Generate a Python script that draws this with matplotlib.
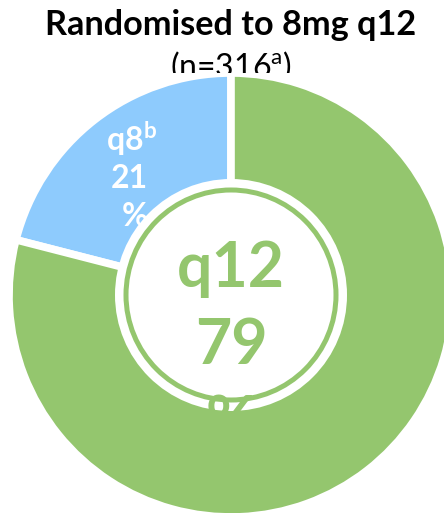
import matplotlib
matplotlib.use("Agg")
import matplotlib.pyplot as plt
from matplotlib.patches import Circle
from matplotlib.transforms import Bbox, TransformedBbox
import numpy as np

categories = ["q8", "q12"]
superscripts = ["b", ""]
values = [21, 79]
colors = ["#8ECBFD", "#94C66E"]
title = "Randomised to 8mg q12"
subtitle_n = 316

plt.rcParams['font.family'] = ['Lato', 'DejaVu Sans']
plt.rcParams['mathtext.fontset'] = 'custom'
plt.rcParams['mathtext.rm'] = 'Lato'
plt.rcParams['mathtext.bf'] = 'Lato:bold'

W, H = 444, 513
fig = plt.figure(figsize=(W / 100, H / 100), dpi=100)
fig.patch.set_facecolor("white")

# Title and subtitle
fig.text(231 / W, 1 - 35 / H, title, ha="center", va="baseline",
         fontsize=24.7, fontweight="bold", color="black")
sub = fig.text(231 / W, 1 - 77 / H, r"(n=%d$^{\mathrm{a}}$)" % subtitle_n,
               ha="center", va="baseline", fontsize=23, color="black")
sub.set_clip_box(TransformedBbox(Bbox([[0, 1 - 73 / H], [1, 1]]), fig.transFigure))

# Pie axes in pixel units (data y = H - pixel_y)
top_px = 73
ax = fig.add_axes([0, 0, 1, (H - top_px) / H])
cx, cy, R = 231, H - 295, 222
wedges, _ = ax.pie(values, colors=colors, startangle=90, counterclock=True,
                   radius=R, center=(cx, cy),
                   wedgeprops=dict(edgecolor="white", linewidth=5.5))
ax.set_xlim(0, W)
ax.set_ylim(0, H - top_px)
ax.set_aspect("equal")
ax.axis("off")

# Label for small slice
w = wedges[0]
mid = np.deg2rad((w.theta1 + w.theta2) / 2)
lx, ly = cx + 154 * np.cos(mid), cy + 154 * np.sin(mid)
lab_kw = dict(ha="center", va="baseline", fontsize=23, fontweight="bold",
              color="white", zorder=2)
ax.text(lx - 5, ly + 23, r"%s$^{\mathbf{%s}}$" % (categories[0], superscripts[0]), **lab_kw)
ax.text(lx - 7, ly - 15, "%d" % values[0], **lab_kw)
ax.text(lx - 2, ly - 53, "%", **lab_kw)

# Center white disk and ring
green = colors[1]
disk = Circle((cx, cy), 116, facecolor="white", edgecolor="none", zorder=3)
ax.add_patch(disk)
c_kw = dict(ha="center", va="baseline", fontsize=45, fontweight="bold",
            color=green, zorder=4)
ax.text(cx, cy + 8, categories[1], **c_kw)
ax.text(cx, cy - 69, "%d" % values[1], **c_kw)
ax.text(cx, cy - 146, "%", **c_kw)
ring = Circle((cx, cy), 105, facecolor="none", edgecolor=green, linewidth=3.6, zorder=5)
ax.add_patch(ring)

fig.savefig("out.png", dpi=100, facecolor="white")
